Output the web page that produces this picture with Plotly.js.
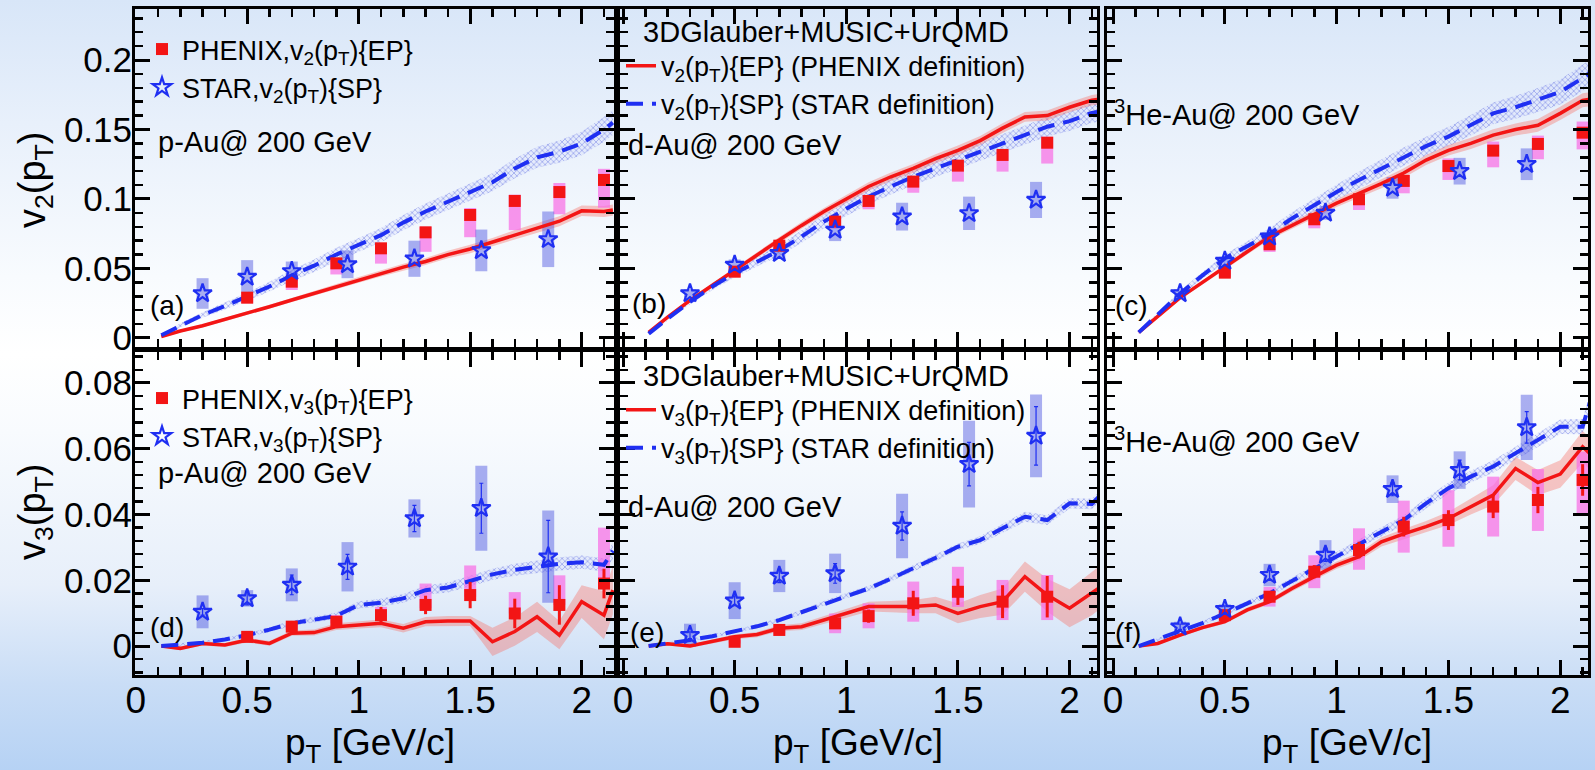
<!DOCTYPE html>
<html><head><meta charset="utf-8">
<script src="https://cdn.plot.ly/plotly-3.0.1.min.js"></script>
<style>
html,body{margin:0;padding:0;}
body{width:1595px;height:770px;overflow:hidden;
background:linear-gradient(to bottom,#d8e6f8 0%,#e8f0fb 16%,#f8fbfe 36%,#ffffff 46%,#f8fbfe 56%,#e7effa 76%,#c9ddf6 89%,#b6d2f4 100%);}
#chart{width:1595px;height:770px;}
</style></head><body><div id="chart"></div>
<script>
// ---------------- model pT grid ----------------
const pT = [0.115,0.2,0.3,0.4,0.5,0.6,0.7,0.8,0.9,1.0,1.1,1.2,1.3,1.4,1.5,1.6,1.7,1.8,1.9,2.0,2.1,2.14];

// ---------------- v2 models ----------------
const pAu_v2_EP     = [0.001,0.005,0.0088,0.0132,0.0177,0.0225,0.0273,0.032,0.037,0.0418,0.0465,0.051,0.055,0.060,0.064,0.069,0.0745,0.079,0.084,0.0915,0.091,0.092];
const pAu_v2_EP_err = [0.0008,0.001,0.001,0.0012,0.0013,0.0014,0.0015,0.0016,0.0018,0.002,0.0022,0.0024,0.0025,0.0027,0.003,0.003,0.0032,0.0034,0.0036,0.0038,0.004,0.004];
const pAu_v2_SP     = [0.002,0.009,0.0165,0.023,0.0297,0.037,0.045,0.052,0.060,0.067,0.074,0.083,0.091,0.098,0.105,0.112,0.122,0.130,0.134,0.140,0.150,0.155];
const pAu_v2_SP_err = [0.001,0.0015,0.002,0.0025,0.003,0.0035,0.004,0.0045,0.005,0.005,0.0052,0.0055,0.0058,0.006,0.006,0.0065,0.007,0.0075,0.008,0.0085,0.009,0.009];

const dAu_v2_EP     = [0.004,0.015,0.027,0.038,0.049,0.060,0.0705,0.081,0.091,0.100,0.109,0.116,0.122,0.129,0.135,0.142,0.151,0.159,0.160,0.166,0.171,0.172];
const dAu_v2_EP_err = [0.001,0.0012,0.0014,0.0016,0.0018,0.002,0.0022,0.0024,0.0026,0.0028,0.003,0.003,0.0032,0.0032,0.0034,0.0034,0.0035,0.0035,0.0036,0.0036,0.0038,0.0038];
const dAu_v2_SP     = [0.003,0.014,0.026,0.037,0.0465,0.055,0.063,0.073,0.0837,0.093,0.1017,0.109,0.116,0.122,0.128,0.134,0.140,0.146,0.152,0.156,0.162,0.163];
const dAu_v2_SP_err = [0.001,0.0015,0.002,0.0025,0.003,0.0035,0.004,0.0045,0.005,0.0052,0.0055,0.0058,0.006,0.006,0.0062,0.0064,0.0066,0.0068,0.007,0.007,0.0072,0.0072];

const HeAu_v2_EP     = [0.004,0.0153,0.029,0.040,0.0513,0.062,0.0729,0.081,0.089,0.097,0.104,0.111,0.1187,0.128,0.135,0.140,0.146,0.150,0.153,0.1616,0.171,0.172];
const HeAu_v2_EP_err = [0.001,0.0012,0.0014,0.0016,0.0018,0.002,0.0022,0.0024,0.0026,0.0028,0.003,0.0032,0.0034,0.0036,0.0038,0.004,0.0042,0.0044,0.0046,0.0048,0.005,0.005];
const HeAu_v2_SP     = [0.004,0.017,0.032,0.045,0.0573,0.066,0.075,0.086,0.0957,0.105,0.1137,0.122,0.1305,0.138,0.1449,0.153,0.1616,0.166,0.1712,0.177,0.187,0.1916];
const HeAu_v2_SP_err = [0.001,0.0015,0.002,0.0025,0.003,0.0035,0.004,0.0045,0.005,0.0055,0.006,0.0063,0.0066,0.0068,0.007,0.0074,0.0078,0.0082,0.0086,0.009,0.0095,0.0095];

// ---------------- v3 models ----------------
const pAu_v3_EP     = [0.000,-0.0007,0.0008,0.0003,0.0018,0.0008,0.0039,0.0041,0.0059,0.0064,0.0069,0.0054,0.0074,0.0076,0.0076,0.0013,0.0044,0.0089,0.0033,0.0135,0.0094,0.017];
const pAu_v3_EP_err = [0.0004,0.0005,0.0006,0.0006,0.0007,0.0007,0.0008,0.0009,0.001,0.0011,0.0012,0.0013,0.0014,0.0015,0.0015,0.0043,0.0043,0.0046,0.0043,0.005,0.0073,0.0073];
const pAu_v3_SP     = [0.000,0.0005,0.001,0.002,0.0033,0.005,0.0069,0.008,0.0092,0.0125,0.0132,0.0145,0.017,0.0178,0.0198,0.0218,0.0232,0.0242,0.025,0.0255,0.0247,0.029];
const pAu_v3_SP_err = [0.0003,0.0004,0.0005,0.0005,0.0006,0.0007,0.0008,0.0009,0.001,0.0011,0.0012,0.0013,0.0014,0.0015,0.0016,0.0017,0.0018,0.0019,0.002,0.002,0.002,0.0025];

const dAu_v3_EP     = [0.000,0.0007,0.000,0.0013,0.0028,0.0035,0.0054,0.0059,0.0079,0.0099,0.012,0.012,0.012,0.0125,0.0099,0.012,0.0135,0.0211,0.0155,0.0115,0.016,0.018];
const dAu_v3_EP_err = [0.0004,0.0005,0.0005,0.0006,0.0007,0.0008,0.0009,0.001,0.0012,0.0013,0.0015,0.0017,0.002,0.0025,0.003,0.0035,0.004,0.0046,0.005,0.0058,0.0066,0.0066];
const dAu_v3_SP     = [0.000,0.0008,0.0018,0.003,0.0044,0.006,0.0079,0.0103,0.013,0.0153,0.0175,0.0205,0.0236,0.0268,0.0302,0.0322,0.0358,0.0393,0.0383,0.0434,0.0432,0.046];
const dAu_v3_SP_err = [0.0003,0.0004,0.0004,0.0005,0.0005,0.0006,0.0006,0.0007,0.0007,0.0008,0.0008,0.0009,0.0009,0.001,0.001,0.0012,0.0013,0.0015,0.0015,0.0016,0.0016,0.0016];

const HeAu_v3_EP     = [0.000,0.0008,0.0033,0.0056,0.0074,0.011,0.0135,0.0175,0.0211,0.0246,0.0272,0.0317,0.0341,0.0363,0.0388,0.0424,0.0459,0.054,0.0497,0.0523,0.0606,0.058];
const HeAu_v3_EP_err = [0.0004,0.0005,0.0005,0.0006,0.0006,0.0007,0.0008,0.0009,0.001,0.0011,0.0012,0.0014,0.0015,0.0017,0.002,0.0024,0.003,0.0035,0.0038,0.0042,0.0048,0.0048];
const HeAu_v3_SP     = [0.000,0.002,0.0044,0.007,0.0099,0.013,0.016,0.0198,0.0236,0.0274,0.0312,0.0347,0.0383,0.0434,0.048,0.0515,0.0546,0.0586,0.0627,0.0667,0.0667,0.0758];
const HeAu_v3_SP_err = [0.0003,0.0004,0.0005,0.0006,0.0007,0.0008,0.0009,0.001,0.0011,0.0012,0.0013,0.0014,0.0015,0.0016,0.0017,0.0018,0.0019,0.002,0.0021,0.0022,0.0023,0.0025];

// ---------------- PHENIX data ----------------
const phxX     = [0.5,0.7,0.9,1.1,1.3,1.5,1.7,1.9,2.1];
const phxX_dAu = [0.5,0.7,0.95,1.1,1.3,1.5,1.7,1.9];

const phx_pAu_v2    = [0.029,0.0405,0.0537,0.0645,0.076,0.0885,0.0986,0.105,0.1137];
const phx_pAu_v2_up = [0.003,0.0035,0.0035,0.0035,0.004,0.005,0.0045,0.0065,0.008];
const phx_pAu_v2_dn = [0.004,0.006,0.008,0.011,0.014,0.016,0.021,0.016,0.02];

const phx_dAu_v2    = [0.0477,0.0664,0.0837,0.0986,0.1125,0.124,0.1317,0.1405];
const phx_dAu_v2_up = [0.002,0.002,0.003,0.003,0.0036,0.004,0.0036,0.0043];
const phx_dAu_v2_dn = [0.004,0.004,0.005,0.006,0.008,0.0115,0.012,0.015];

const phx_HeAu_v2    = [0.047,0.0674,0.0854,0.0998,0.113,0.1237,0.1348,0.1396,0.1477];
const phx_HeAu_v2_up = [0.002,0.002,0.003,0.003,0.0043,0.0055,0.0065,0.006,0.008];
const phx_HeAu_v2_dn = [0.003,0.0055,0.0065,0.0077,0.0089,0.01,0.012,0.011,0.012];

const phx_pAu_v3      = [0.0028,0.0059,0.0074,0.0094,0.0125,0.0155,0.0099,0.0125,0.019];
const phx_pAu_v3_stat = [0.0008,0.001,0.0015,0.0025,0.0028,0.004,0.0045,0.006,0.0045];
const phx_pAu_v3_up   = [0.0008,0.001,0.002,0.0025,0.0065,0.009,0.0065,0.009,0.017];
const phx_pAu_v3_dn   = [0.0008,0.001,0.0005,0.0005,0.001,0.0005,0,0,0];

const phx_dAu_v3      = [0.0013,0.0049,0.0069,0.0091,0.013,0.0165,0.0135,0.015];
const phx_dAu_v3_stat = [0.0008,0.001,0.0015,0.002,0.0038,0.004,0.005,0.0063];
const phx_dAu_v3_up   = [0.0005,0.001,0.003,0.0039,0.0066,0.0076,0.0066,0.0066];
const phx_dAu_v3_dn   = [0.0005,0.001,0.003,0.0037,0.0056,0.0046,0.0056,0.0071];

const phx_HeAu_v3      = [0.0094,0.015,0.0226,0.0292,0.0363,0.0383,0.0424,0.0444,0.0505];
const phx_HeAu_v3_stat = [0.001,0.0015,0.002,0.0025,0.003,0.003,0.0035,0.004,0.0048];
const phx_HeAu_v3_up   = [0.0015,0.003,0.005,0.0066,0.0079,0.0091,0.0091,0.0094,0.0086];
const phx_HeAu_v3_dn   = [0.0015,0.003,0.005,0.006,0.0079,0.0081,0.0091,0.0094,0.0101];

// ---------------- STAR data ----------------
const starX = [0.3,0.5,0.7,0.95,1.25,1.55,1.85];

const star_pAu_v2     = [0.032,0.044,0.048,0.053,0.057,0.063,0.071];
const star_pAu_v2_sys = [0.011,0.012,0.007,0.01,0.013,0.015,0.02];
const star_dAu_v2     = [0.032,0.0525,0.061,0.0777,0.0873,0.0897,0.0993];
const star_dAu_v2_sys = [0.003,0.004,0.004,0.008,0.01,0.012,0.013];
const star_HeAu_v2     = [0.0321,0.0554,0.0729,0.090,0.108,0.120,0.125];
const star_HeAu_v2_sys = [0.003,0.003,0.003,0.005,0.0078,0.0096,0.0114];

const star_pAu_v3      = [0.0104,0.0145,0.0186,0.0241,0.0388,0.0419,0.0272];
const star_pAu_v3_stat = [0.001,0.002,0.003,0.0038,0.004,0.0076,0.011];
const star_pAu_v3_sys  = [0.005,0.0025,0.005,0.0075,0.0058,0.0129,0.014];
const star_dAu_v3      = [0.0033,0.0138,0.0213,0.0221,0.0365,0.0553,0.0639];
const star_dAu_v3_stat = [0.001,0.0015,0.002,0.003,0.0043,0.0066,0.0089];
const star_dAu_v3_sys  = [0.0035,0.0056,0.0049,0.006,0.0098,0.0132,0.0126];
const star_HeAu_v3      = [0.0059,0.0112,0.0216,0.0277,0.0477,0.0535,0.0665];
const star_HeAu_v3_stat = [0.0008,0.001,0.0015,0.002,0.002,0.003,0.0048];
const star_HeAu_v3_sys  = [0.0015,0.0015,0.0034,0.0045,0.0042,0.0057,0.0099];

// ---------------- text ----------------
const systems = ['p-Au@ 200 GeV','d-Au@ 200 GeV','<sup>3</sup>He-Au@ 200 GeV'];
const panelTags = ['(a)','(b)','(c)','(d)','(e)','(f)'];
const modelTitle = '3DGlauber+MUSIC+UrQMD';
const xTitle = 'p<sub>T</sub> [GeV/c]';
const yTitles = ['v<sub>2</sub>(p<sub>T</sub>)', 'v<sub>3</sub>(p<sub>T</sub>)'];

// ---------------- drawing ----------------
const W = 1595, H = 770;
const FONT = '"Liberation Sans", Arial, Helvetica, sans-serif';
const RED = '#f31515', BLUE = '#1f2ff2';
const PINK = 'rgba(248,110,228,0.72)', SBLUE = 'rgba(70,80,225,0.45)';
const traces = [];

function band(xa, ya, y, err, fillcolor, pattern) {
  const up = y.map((v,i)=>v+err[i]), lo = y.map((v,i)=>v-err[i]);
  const t = {x: pT.concat(pT.slice().reverse()), y: up.concat(lo.slice().reverse()),
    xaxis: xa, yaxis: ya, mode: 'lines', line: {width: 0, color: 'rgba(0,0,0,0)'},
    fill: 'toself', fillcolor: fillcolor, hoverinfo: 'skip', showlegend: false};
  if (pattern) t.fillpattern = pattern;
  traces.push(t);
}
function sysBox(xa, ya, x, y, up, dn, color) {
  traces.push({x: x, y: y, xaxis: xa, yaxis: ya, mode: 'markers',
    marker: {size: 1, color: 'rgba(0,0,0,0)'}, showlegend: false, hoverinfo: 'skip',
    error_y: {type: 'data', symmetric: false, array: up, arrayminus: dn, color: color, thickness: 12, width: 0}});
}

const n = ['2','3'];
const panels = [
  {xa:'x', ya:'y',  h:0, ep:pAu_v2_EP, epE:pAu_v2_EP_err, sp:pAu_v2_SP, spE:pAu_v2_SP_err,
   px:phxX, py:phx_pAu_v2, pu:phx_pAu_v2_up, pd:phx_pAu_v2_dn, ps:null,
   sy:star_pAu_v2, ss:star_pAu_v2_sys, st:null, dataLeg:'legend', modLeg:null},
  {xa:'x2', ya:'y2', h:0, ep:dAu_v2_EP, epE:dAu_v2_EP_err, sp:dAu_v2_SP, spE:dAu_v2_SP_err,
   px:phxX_dAu, py:phx_dAu_v2, pu:phx_dAu_v2_up, pd:phx_dAu_v2_dn, ps:null,
   sy:star_dAu_v2, ss:star_dAu_v2_sys, st:null, dataLeg:null, modLeg:'legend2'},
  {xa:'x3', ya:'y3', h:0, ep:HeAu_v2_EP, epE:HeAu_v2_EP_err, sp:HeAu_v2_SP, spE:HeAu_v2_SP_err,
   px:phxX, py:phx_HeAu_v2, pu:phx_HeAu_v2_up, pd:phx_HeAu_v2_dn, ps:null,
   sy:star_HeAu_v2, ss:star_HeAu_v2_sys, st:null, dataLeg:null, modLeg:null},
  {xa:'x4', ya:'y4', h:1, ep:pAu_v3_EP, epE:pAu_v3_EP_err, sp:pAu_v3_SP, spE:pAu_v3_SP_err,
   px:phxX, py:phx_pAu_v3, pu:phx_pAu_v3_up, pd:phx_pAu_v3_dn, ps:phx_pAu_v3_stat,
   sy:star_pAu_v3, ss:star_pAu_v3_sys, st:star_pAu_v3_stat, dataLeg:'legend3', modLeg:null},
  {xa:'x5', ya:'y5', h:1, ep:dAu_v3_EP, epE:dAu_v3_EP_err, sp:dAu_v3_SP, spE:dAu_v3_SP_err,
   px:phxX_dAu, py:phx_dAu_v3, pu:phx_dAu_v3_up, pd:phx_dAu_v3_dn, ps:phx_dAu_v3_stat,
   sy:star_dAu_v3, ss:star_dAu_v3_sys, st:star_dAu_v3_stat, dataLeg:null, modLeg:'legend4'},
  {xa:'x6', ya:'y6', h:1, ep:HeAu_v3_EP, epE:HeAu_v3_EP_err, sp:HeAu_v3_SP, spE:HeAu_v3_SP_err,
   px:phxX, py:phx_HeAu_v3, pu:phx_HeAu_v3_up, pd:phx_HeAu_v3_dn, ps:phx_HeAu_v3_stat,
   sy:star_HeAu_v3, ss:star_HeAu_v3_sys, st:star_HeAu_v3_stat, dataLeg:null, modLeg:null}
];

const hatch = {shape: 'x', size: 4, solidity: 0.35, fgcolor: 'rgba(90,105,225,0.55)', bgcolor: 'rgba(215,220,252,0.35)'};

panels.forEach(p => {
  const k = n[p.h];
  band(p.xa, p.ya, p.sp, p.spE, 'rgba(120,135,235,0.25)', hatch);
  band(p.xa, p.ya, p.ep, p.epE, 'rgba(248,110,100,0.38)', null);
  sysBox(p.xa, p.ya, p.px, p.py, p.pu, p.pd, PINK);
  sysBox(p.xa, p.ya, starX, p.sy, p.ss, p.ss, SBLUE);
  traces.push({x: pT, y: p.ep, xaxis: p.xa, yaxis: p.ya, mode: 'lines',
    line: {color: RED, width: 3.5}, hoverinfo: 'skip',
    name: 'v<sub>'+k+'</sub>(p<sub>T</sub>){EP} (PHENIX definition)',
    showlegend: !!p.modLeg, legend: p.modLeg || 'legend'});
  traces.push({x: pT, y: p.sp, xaxis: p.xa, yaxis: p.ya, mode: 'lines',
    line: {color: BLUE, width: 4, dash: '17px,9px'}, hoverinfo: 'skip',
    name: 'v<sub>'+k+'</sub>(p<sub>T</sub>){SP} (STAR definition)',
    showlegend: !!p.modLeg, legend: p.modLeg || 'legend'});
  const phx = {x: p.px, y: p.py, xaxis: p.xa, yaxis: p.ya, mode: 'markers',
    marker: {symbol: 'square', size: 12, color: RED},
    name: 'PHENIX,v<sub>'+k+'</sub>(p<sub>T</sub>){EP}',
    showlegend: !!p.dataLeg, legend: p.dataLeg || 'legend'};
  if (p.ps) phx.error_y = {type: 'data', array: p.ps, color: RED, thickness: 3, width: 0};
  traces.push(phx);
  const star = {x: starX, y: p.sy, xaxis: p.xa, yaxis: p.ya, mode: 'markers',
    marker: {symbol: 'star-open', size: 14, color: BLUE, line: {width: 2.2, color: BLUE}},
    name: 'STAR,v<sub>'+k+'</sub>(p<sub>T</sub>){SP}',
    showlegend: !!p.dataLeg, legend: p.dataLeg || 'legend'};
  if (p.st) star.error_y = {type: 'data', array: p.st, color: BLUE, thickness: 1.2, width: 2};
  traces.push(star);
});

// ---------------- layout ----------------
const axBase = {showline: true, linecolor: 'black', linewidth: 3, mirror: 'ticks',
  ticks: 'inside', ticklen: 15, tickwidth: 3, tickcolor: 'black',
  showgrid: false, zeroline: false, fixedrange: true};
const colPx = [[135, 614], [620, 1097], [1107, 1588]];
const xRanges = [[-0.003, 2.145], [-0.0135, 2.123], [-0.027, 2.124]];
const rowPx = [[9, 347], [352, 675]];
const yRanges = [[-0.0065, 0.2367], [-0.0088, 0.0894]];
const yDt = [0.05, 0.02], yMinor = [0.01, 0.004];

const layout = {width: W, height: H, autosize: false,
  margin: {l: 0, r: 0, t: 0, b: 0, pad: 0},
  paper_bgcolor: 'rgba(0,0,0,0)', plot_bgcolor: 'rgba(0,0,0,0)',
  font: {family: FONT, color: 'black'}, showlegend: true, annotations: []};

for (let r = 0; r < 2; r++) {
  for (let c = 0; c < 3; c++) {
    const i = r*3 + c + 1, s = i === 1 ? '' : String(i);
    layout['xaxis'+s] = Object.assign({}, axBase, {
      domain: [colPx[c][0]/W, colPx[c][1]/W], range: xRanges[c], anchor: 'y'+s,
      tick0: 0, dtick: 0.5,
      minor: {dtick: 0.1, ticklen: 8, tickwidth: 2.5, ticks: 'inside', tickcolor: 'black'},
      showticklabels: r === 1, ticklabelstandoff: -9,
      tickfont: {family: FONT, color: 'black', size: 37}
    });
    layout['yaxis'+s] = Object.assign({}, axBase, {
      domain: [1 - rowPx[r][1]/H, 1 - rowPx[r][0]/H], range: yRanges[r], anchor: 'x'+s,
      tick0: 0, dtick: yDt[r],
      minor: {dtick: yMinor[r], ticklen: 8, tickwidth: 2.5, ticks: 'inside', tickcolor: 'black'},
      showticklabels: c === 0, ticklabelstandoff: -7,
      tickfont: {family: FONT, color: 'black', size: 35}
    });
  }
}

const legBase = {xanchor: 'left', yanchor: 'top', bgcolor: 'rgba(0,0,0,0)', borderwidth: 0,
  font: {family: FONT, size: 27, color: 'black'}, itemwidth: 30, tracegroupgap: 0, itemclick: false, itemdoubleclick: false};
layout.legend  = Object.assign({}, legBase, {x: 142/W, y: 1 - 25/H});
layout.legend3 = Object.assign({}, legBase, {x: 142/W, y: 1 - 374/H});
layout.legend2 = Object.assign({}, legBase, {x: 621/W, y: 1 - 4/H,
  title: {text: modelTitle, side: 'top center', font: {family: FONT, size: 29, color: 'black'}}});
layout.legend4 = Object.assign({}, legBase, {x: 621/W, y: 1 - 348/H,
  title: {text: modelTitle, side: 'top center', font: {family: FONT, size: 29, color: 'black'}}});

function note(text, xpx, ypx, size, anchor, angle) {
  layout.annotations.push({text: text, xref: 'paper', yref: 'paper', x: xpx/W, y: 1 - ypx/H,
    xanchor: anchor || 'left', yanchor: 'middle', showarrow: false, textangle: angle || 0,
    font: {family: FONT, size: size, color: 'black'}});
}
note(systems[0], 156, 142, 29);
note(systems[1], 626, 145, 29);
note(systems[2], 1112, 113, 29);
note(systems[0], 156, 473, 29);
note(systems[1], 626, 507, 29);
note(systems[2], 1112, 440, 29);
note(panelTags[0], 148, 305, 28);
note(panelTags[1], 630, 303, 28);
note(panelTags[2], 1113, 305, 28);
note(panelTags[3], 148, 627, 28);
note(panelTags[4], 628, 632, 28);
note(panelTags[5], 1113, 632, 28);
// axis titles
note(xTitle, 370, 745, 37, 'center');
note(xTitle, 858, 745, 37, 'center');
note(xTitle, 1347, 745, 37, 'center');
note(yTitles[0], 35, 180, 38, 'center', -90);
note(yTitles[1], 35, 512, 38, 'center', -90);

Plotly.newPlot('chart', traces, layout, {displayModeBar: false, staticPlot: true});
</script></body></html>
